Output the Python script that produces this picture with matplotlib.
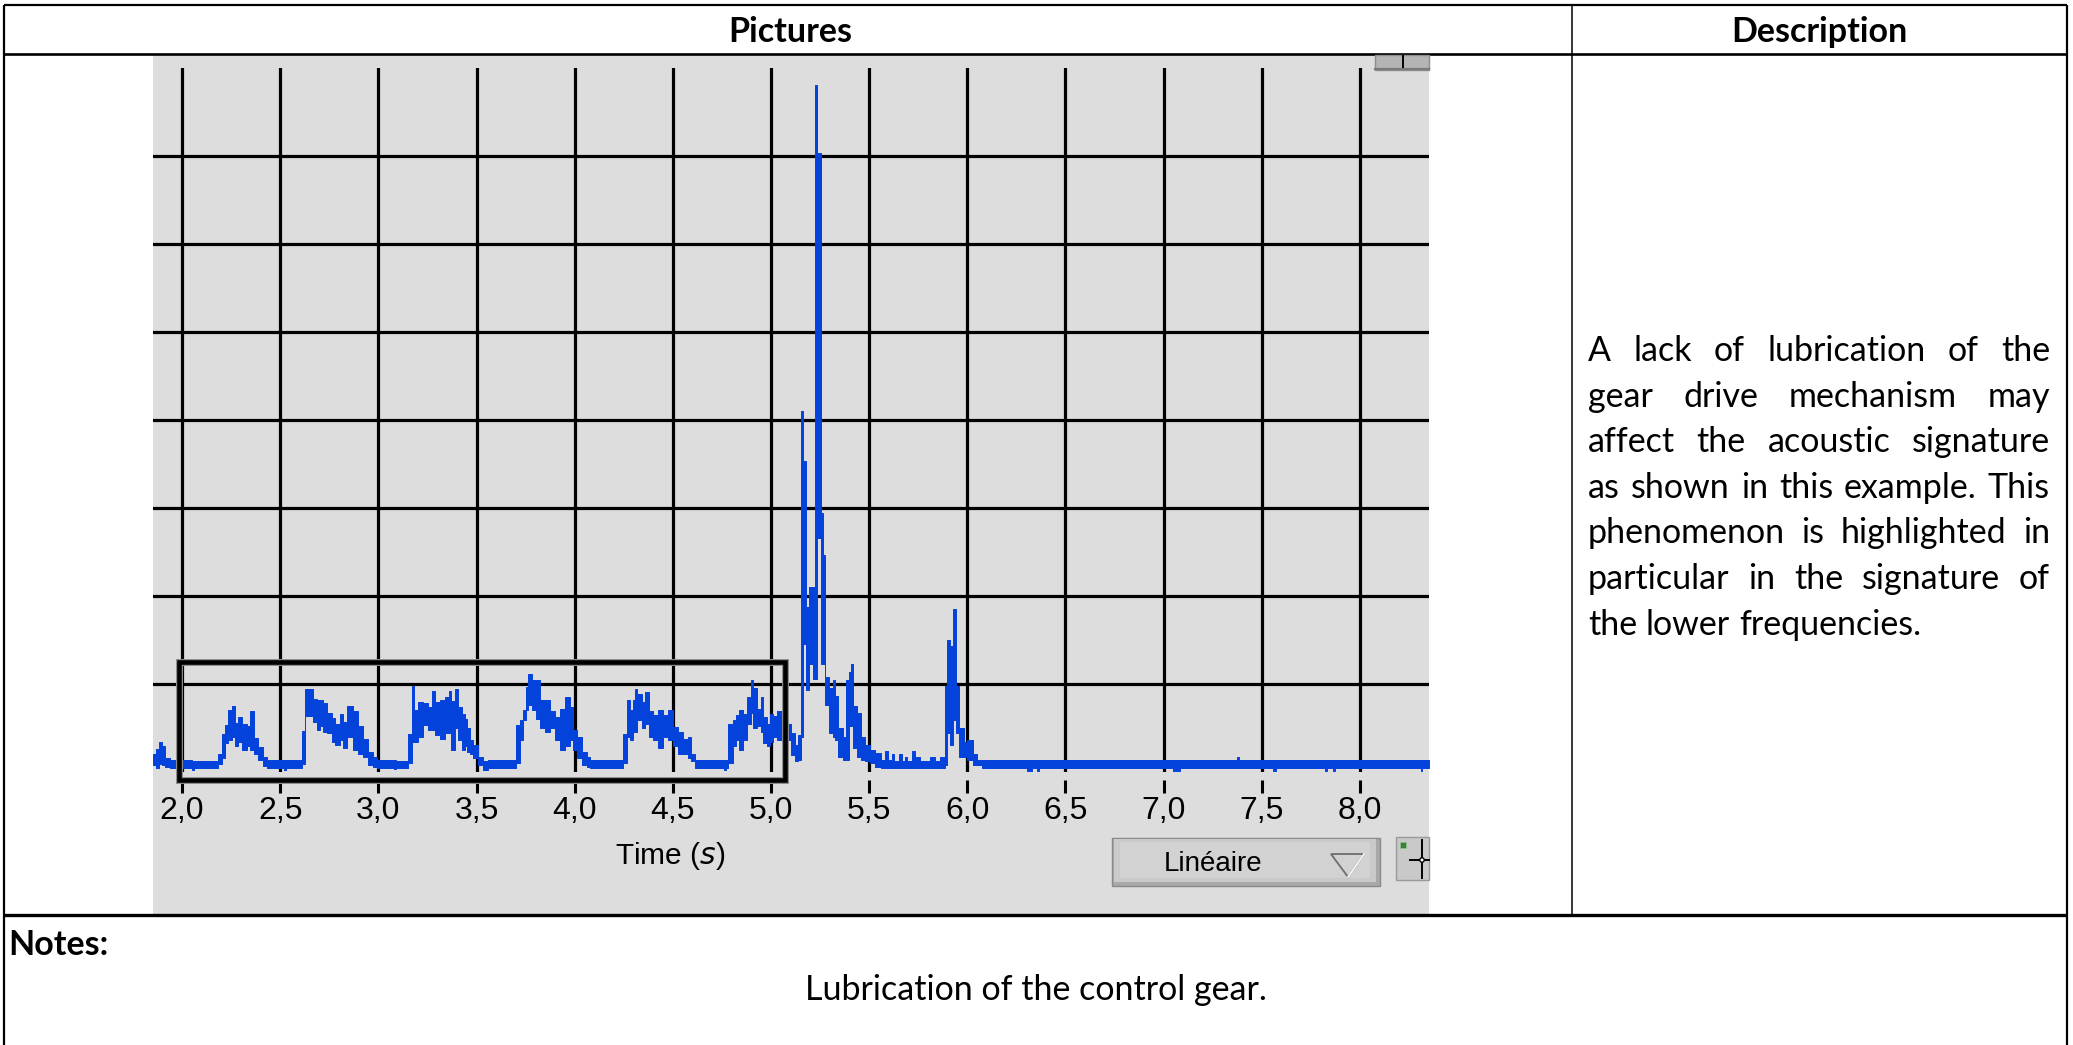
import matplotlib
matplotlib.use("Agg")
import matplotlib.pyplot as plt
from matplotlib.patches import Rectangle, Polygon, Circle
from matplotlib.font_manager import FontProperties

W, H = 2073, 1045

# ---------------- data ----------------
x_ticks = [2.0, 2.5, 3.0, 3.5, 4.0, 4.5, 5.0, 5.5, 6.0, 6.5, 7.0, 7.5, 8.0]
x_tick_labels = ["2,0", "2,5", "3,0", "3,5", "4,0", "4,5", "5,0",
                 "5,5", "6,0", "6,5", "7,0", "7,5", "8,0"]
y_grid = [1, 2, 3, 4, 5, 6, 7]
x_range = (1.852, 8.352)
y_range = (0.0, 8.0)
box_time = (1.986, 5.07)
box_amp = (-0.09, 1.25)
x_label = r"Time ($\it{s}$)"
scale_mode = "Linéaire"

# signal envelope (time in s, lower / upper amplitude in grid units)
sig_t = [
    1.852, 1.868, 1.883, 1.898, 1.913, 1.939, 2.050, 2.060,
    2.185, 2.202, 2.219, 2.236, 2.253, 2.270, 2.287, 2.304, 2.330, 2.346, 2.367, 2.389, 2.414, 2.431, 2.520, 2.530,
    2.610, 2.627, 2.669, 2.686, 2.703, 2.720, 2.737, 2.763, 2.779, 2.805, 2.822, 2.839, 2.873, 2.898, 2.924, 2.949, 2.975, 2.992, 3.080, 3.090,
    3.153, 3.173, 3.183, 3.204, 3.229, 3.255, 3.272, 3.289, 3.314, 3.340, 3.362, 3.372, 3.391, 3.408, 3.425, 3.440, 3.450, 3.467, 3.484, 3.509, 3.535, 3.560,
    3.701, 3.722, 3.739, 3.752, 3.764, 3.781, 3.803, 3.824, 3.849, 3.875, 3.900, 3.926, 3.951, 3.976, 3.993, 4.011, 4.036, 4.062, 4.078,
    4.248, 4.265, 4.282, 4.299, 4.308, 4.320, 4.342, 4.359, 4.381, 4.401, 4.427, 4.452, 4.477, 4.503, 4.528, 4.554, 4.579, 4.591, 4.613, 4.760, 4.770,
    4.783, 4.805, 4.822, 4.839, 4.859, 4.880, 4.897, 4.910, 4.928, 4.949, 4.961, 4.978, 4.995, 5.012, 5.029, 5.055, 5.080, 5.101, 5.123, 5.139,
    5.153, 5.165, 5.177, 5.195, 5.213, 5.224, 5.234, 5.253, 5.264, 5.275, 5.297, 5.315, 5.326, 5.343, 5.366, 5.382, 5.399, 5.410, 5.419, 5.439, 5.457, 5.479, 5.504, 5.530, 5.560,
    5.581, 5.595, 5.615, 5.625, 5.653, 5.667, 5.682, 5.692, 5.717, 5.734, 5.760, 5.810, 5.836, 5.860,
    5.887, 5.896, 5.913, 5.927, 5.943, 5.960, 5.981, 6.001, 6.028, 6.052, 6.074,
    6.303, 6.328, 6.354, 6.367, 7.048, 7.084, 7.374, 7.384, 7.558, 7.573, 7.822, 7.832, 7.863, 7.873, 8.311, 8.316, 8.352,
]
sig_lo = [
    0.08, 0.05, 0.09, 0.08, 0.06, 0.05, 0.02, 0.05,
    0.09, 0.16, 0.33, 0.36, 0.40, 0.29, 0.34, 0.25, 0.29, 0.25, 0.21, 0.14, 0.07, 0.05, 0.02, 0.05,
    0.09, 0.64, 0.57, 0.48, 0.52, 0.46, 0.44, 0.34, 0.31, 0.36, 0.27, 0.40, 0.25, 0.21, 0.17, 0.08, 0.06, 0.05, 0.03, 0.05,
    0.10, 0.34, 0.34, 0.40, 0.53, 0.48, 0.48, 0.42, 0.38, 0.44, 0.44, 0.25, 0.50, 0.36, 0.25, 0.30, 0.23, 0.20, 0.16, 0.08, 0.02, 0.05,
    0.10, 0.36, 0.59, 0.70, 0.76, 0.70, 0.60, 0.50, 0.46, 0.50, 0.36, 0.25, 0.29, 0.36, 0.25, 0.16, 0.08, 0.06, 0.05,
    0.10, 0.40, 0.36, 0.46, 0.46, 0.59, 0.50, 0.55, 0.40, 0.36, 0.27, 0.40, 0.36, 0.29, 0.21, 0.21, 0.16, 0.12, 0.05, 0.02, 0.05,
    0.10, 0.29, 0.36, 0.25, 0.36, 0.55, 0.67, 0.50, 0.52, 0.45, 0.33, 0.29, 0.34, 0.40, 0.36, 0.34, 0.36, 0.19, 0.12, 0.14,
    0.40, 1.46, 0.93, 1.23, 1.06, 1.06, 2.66, 1.23, 1.23, 0.76, 0.44, 0.40, 0.36, 0.17, 0.14, 0.14, 0.52, 0.52, 0.27, 0.17, 0.14, 0.12, 0.10, 0.06, 0.05,
    0.05, 0.05, 0.05, 0.05, 0.05, 0.05, 0.05, 0.05, 0.05, 0.05, 0.05, 0.05, 0.05, 0.05,
    0.08, 0.44, 0.31, 0.59, 0.44, 0.17, 0.17, 0.14, 0.08, 0.08, 0.05,
    0.015, 0.05, 0.015, 0.05, 0.015, 0.05, 0.05, 0.05, 0.015, 0.05, 0.015, 0.05, 0.015, 0.05, 0.015, 0.05, 0.05,
]
sig_hi = [
    0.20, 0.26, 0.34, 0.29, 0.16, 0.14, 0.13, 0.13,
    0.20, 0.43, 0.53, 0.70, 0.75, 0.56, 0.62, 0.55, 0.52, 0.69, 0.39, 0.28, 0.17, 0.14, 0.14, 0.14,
    0.47, 0.94, 0.83, 0.82, 0.82, 0.78, 0.67, 0.61, 0.55, 0.66, 0.57, 0.75, 0.69, 0.52, 0.37, 0.23, 0.17, 0.14, 0.14, 0.13,
    0.43, 0.98, 0.70, 0.79, 0.78, 0.74, 0.92, 0.79, 0.82, 0.85, 0.92, 0.81, 0.94, 0.74, 0.66, 0.60, 0.50, 0.36, 0.31, 0.17, 0.12, 0.14,
    0.53, 0.59, 0.70, 0.97, 1.11, 1.05, 1.05, 0.82, 0.82, 0.69, 0.62, 0.72, 0.85, 0.74, 0.48, 0.40, 0.23, 0.17, 0.14,
    0.43, 0.82, 0.70, 0.82, 0.94, 0.89, 0.80, 0.91, 0.69, 0.65, 0.70, 0.65, 0.70, 0.51, 0.46, 0.37, 0.40, 0.20, 0.14, 0.14, 0.14,
    0.55, 0.59, 0.65, 0.70, 0.66, 0.85, 1.05, 0.95, 0.72, 0.85, 0.62, 0.55, 0.66, 0.64, 0.69, 0.63, 0.55, 0.44, 0.31, 0.42,
    4.10, 3.53, 1.88, 2.10, 2.10, 7.81, 7.03, 2.94, 2.47, 1.08, 0.95, 1.05, 0.86, 0.50, 0.40, 1.05, 1.14, 1.23, 0.75, 0.67, 0.40, 0.31, 0.25, 0.22, 0.14,
    0.24, 0.14, 0.20, 0.12, 0.20, 0.12, 0.17, 0.12, 0.235, 0.17, 0.12, 0.17, 0.12, 0.17,
    0.98, 1.50, 1.43, 1.85, 0.98, 0.50, 0.34, 0.36, 0.20, 0.14, 0.14,
    0.14, 0.14, 0.14, 0.14, 0.14, 0.14, 0.17, 0.14, 0.14, 0.14, 0.14, 0.14, 0.14, 0.14, 0.14, 0.14, 0.14,
]
assert len(sig_t) == len(sig_lo) == len(sig_hi)

header_left = "Pictures"
header_right = "Description"
description = [
    "A lack of lubrication of the",
    "gear drive mechanism may",
    "affect the acoustic signature",
    "as shown in this example. This",
    "phenomenon is highlighted in",
    "particular in the signature of",
    "the lower frequencies.",
]
notes_title = "Notes:"
notes_text = "Lubrication of the control gear."

# ---------------- styles ----------------
BLUE = "#0342DB"
PANEL = "#DDDDDD"
TXT_FONT = "Lato"
CHART_FONT = "Liberation Sans"

fig = plt.figure(figsize=(W / 100, H / 100), dpi=100)
bg = fig.add_axes([0, 0, 1, 1])
bg.set_xlim(0, W)
bg.set_ylim(H, 0)
bg.axis("off")

# table frame
L, R, T = 4, 2067, 5
COL, HDR, NOTE = 1572, 54, 915
bg.plot([L, R], [T, T], color="black", lw=1.6, solid_capstyle="butt")
bg.plot([L, R], [HDR, HDR], color="black", lw=1.9, solid_capstyle="butt")
bg.plot([L, R], [NOTE, NOTE], color="black", lw=2.4, solid_capstyle="butt")
bg.plot([L, L], [T, H], color="black", lw=1.6, solid_capstyle="butt")
bg.plot([R, R], [T, H], color="black", lw=1.6, solid_capstyle="butt")
bg.plot([COL, COL], [T, NOTE], color="black", lw=1.1, solid_capstyle="butt")

# grey screenshot panel
bg.add_patch(Rectangle((153, HDR + 1), 1276, NOTE - HDR - 2, facecolor=PANEL, edgecolor="none", zorder=0))

# small widget top-right of panel
bg.add_patch(Rectangle((1375, 55), 54, 15, facecolor="#B4B4B4", edgecolor="#8C8C8C", lw=1.0, zorder=2))
bg.plot([1375, 1429], [69, 69], color="#7A7A7A", lw=1.6, zorder=3)
bg.plot([1403, 1403], [56, 67], color="black", lw=1.4, zorder=3)

# "Linéaire" ring control
bg.add_patch(Rectangle((1112, 838), 268, 48, facecolor="#A9A9A9", edgecolor="#8A8A8A", lw=1.0, zorder=2))
bg.add_patch(Rectangle((1114, 839), 262, 43, facecolor="#CACACA", edgecolor="none", zorder=2))
bg.add_patch(Rectangle((1120, 842), 250, 36, facecolor="#D2D2D2", edgecolor="none", zorder=2))
bg.text(1213, 864, scale_mode, fontsize=20, family=CHART_FONT, ha="center", va="center", zorder=4)
bg.add_patch(Polygon([(1331, 854), (1364, 854), (1348, 877)], closed=True,
                     facecolor="none", edgecolor="#6E6E6E", lw=1.3, zorder=4))
bg.plot([1364, 1348], [854, 877], color="white", lw=1.2, zorder=5)

# cursor widget
bg.add_patch(Rectangle((1396, 837), 33, 43, facecolor="#C9C9C9", edgecolor="#9A9A9A", lw=1.0, zorder=2))
bg.add_patch(Rectangle((1400, 842), 6, 6, facecolor="#3E7D3E", edgecolor="#8FBF8F", lw=0.6, zorder=3))
bg.plot([1422, 1422], [840, 878], color="black", lw=1.4, zorder=3)
bg.plot([1410, 1429], [860, 860], color="black", lw=1.4, zorder=3)
bg.add_patch(Circle((1422, 860), 2.2, facecolor="white", edgecolor="black", lw=1.0, zorder=4))

# ---------------- chart ----------------
ax = fig.add_axes([153 / W, 1 - 772 / H, 1276 / W, 704 / H])
ax.set_facecolor("none")
ax.set_xlim(*x_range)
ax.set_ylim(*y_range)
for s in ax.spines.values():
    s.set_visible(False)
ax.set_yticks([])

GRID_LW = 2.3
for v in x_ticks:
    ax.axvline(v, color="black", lw=GRID_LW, zorder=1)
for h in y_grid:
    ax.axhline(h, color="black", lw=GRID_LW, zorder=1)

ax.fill_between(sig_t, sig_lo, sig_hi, step="post", facecolor=BLUE,
                edgecolor=BLUE, lw=0.7, zorder=2)

# selection box
ax.add_patch(Rectangle((box_time[0], box_amp[0]), box_time[1] - box_time[0], box_amp[1] - box_amp[0],
                       facecolor="none", edgecolor="#8C8C8C", lw=5.0, zorder=3, clip_on=False))
ax.add_patch(Rectangle((box_time[0], box_amp[0]), box_time[1] - box_time[0], box_amp[1] - box_amp[0],
                       facecolor="none", edgecolor="black", lw=3.3, zorder=4, clip_on=False))

# tick dashes below axis and labels
ax.vlines(x_ticks, -0.24, -0.09, color="black", lw=2.2, clip_on=False)
ax.set_xticks(x_ticks, x_tick_labels)
ax.tick_params(axis="x", length=0, pad=17.5, labelsize=23)
for lbl in ax.get_xticklabels():
    lbl.set_fontfamily(CHART_FONT)
ax.set_xlabel(x_label, fontsize=21.5, family=CHART_FONT)
ax.xaxis.set_label_coords((670 - 153) / 1276, (772 - 856) / 704)
ax.xaxis.label.set_va("center")

# ---------------- table text ----------------
FS = 24.5
fp_reg = FontProperties(family=TXT_FONT, size=FS)
fp_bold = FontProperties(family=TXT_FONT, size=FS, weight="bold")

bg.text(790, 42, header_left, fontproperties=fp_bold, ha="center", va="baseline")
bg.text(1819, 42, header_right, fontproperties=fp_bold, ha="center", va="baseline")
bg.text(8, 955, notes_title, fontproperties=fp_bold, ha="left", va="baseline")
bg.text(1036, 1000, notes_text, fontproperties=fp_reg, ha="center", va="baseline")

fig.canvas.draw()
rend = fig.canvas.get_renderer()


def width_of(s):
    t = bg.text(0, 0, s, fontproperties=fp_reg)
    w = t.get_window_extent(renderer=rend).width
    t.remove()
    return w


space_w = width_of("a a") - width_of("aa")
x0, x1 = 1588, 2050
base0, step = 361, 45.6
for i, line in enumerate(description):
    words = line.split()
    ws = [width_of(w) for w in words]
    last = i == len(description) - 1
    gap = space_w if last else (x1 - x0 - sum(ws)) / (len(words) - 1)
    x = x0
    yb = base0 + i * step
    for w, wd in zip(words, ws):
        bg.text(x, yb, w, fontproperties=fp_reg, ha="left", va="baseline")
        x += wd + gap

fig.savefig("out.png", dpi=100)
